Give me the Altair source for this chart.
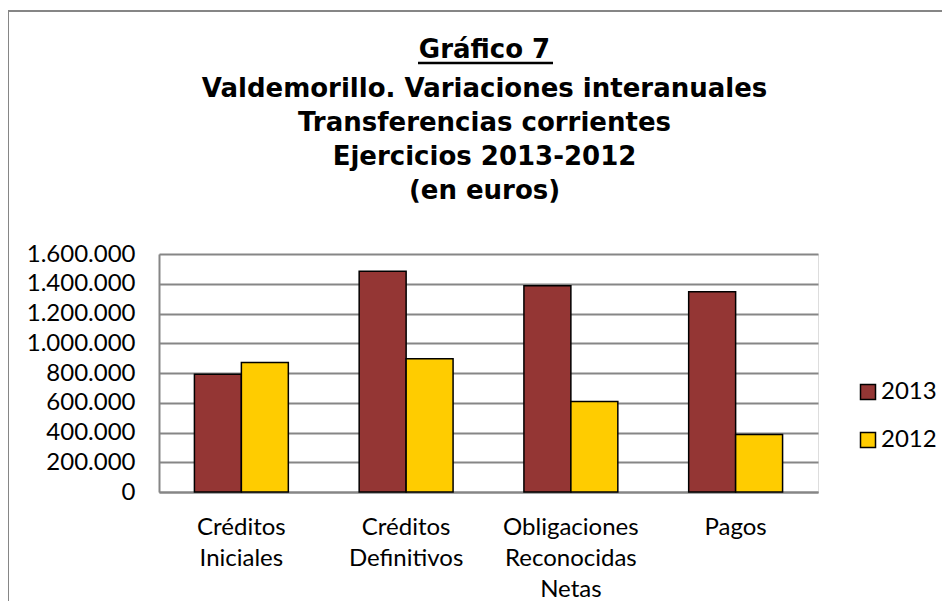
import altair as alt
import pandas as pd

categories = ["Créditos Iniciales", "Créditos Definitivos", "Obligaciones Reconocidas Netas", "Pagos"]
series = ["2013", "2012"]
values_2013 = [792000, 1484000, 1387000, 1347000]
values_2012 = [870000, 895000, 608000, 387000]
y_ticks = [0, 200000, 400000, 600000, 800000, 1000000, 1200000, 1400000, 1600000]
colors = ["#943634", "#FFCC00"]
title_main = "Gráfico 7"
title_lines = [
    "Valdemorillo. Variaciones interanuales",
    "Transferencias corrientes",
    "Ejercicios 2013-2012",
    "(en euros)",
]

rows = []
for c, v in zip(categories, values_2013):
    rows.append({"categoria": c, "ejercicio": "2013", "valor": v})
for c, v in zip(categories, values_2012):
    rows.append({"categoria": c, "ejercicio": "2012", "valor": v})
df = pd.DataFrame(rows)

W, H = 659, 238
LABEL_FONT = "Lato"
TITLE_FONT = "DejaVu Sans"

bars = alt.Chart(df).mark_bar(stroke="black", strokeWidth=1.5).encode(
    x=alt.X(
        "categoria:N",
        sort=categories,
        scale=alt.Scale(paddingInner=0.43, paddingOuter=0.215),
        axis=alt.Axis(
            title=None,
            labelAngle=0,
            labelExpr="split(datum.label, ' ')",
            labelFont=LABEL_FONT,
            labelFontSize=24,
            labelColor="black",
            labelLineHeight=31,
            labelPadding=23,
            ticks=False,
            domainColor="#868686",
            domainWidth=2,
            grid=False,
        ),
    ),
    xOffset=alt.XOffset("ejercicio:N", sort=series, scale=alt.Scale(paddingInner=0, paddingOuter=0)),
    y=alt.Y(
        "valor:Q",
        scale=alt.Scale(domain=[0, 1600000], nice=False),
        axis=alt.Axis(
            title=None,
            values=y_ticks,
            labelExpr="replace(format(datum.value, ','), regexp(',', 'g'), '.')",
            labelFont=LABEL_FONT,
            labelFontSize=24,
            labelColor="black",
            labelPadding=24,
            ticks=False,
            domainColor="#868686",
            domainWidth=2,
            gridColor="#868686",
            gridWidth=2,
        ),
    ),
    color=alt.Color(
        "ejercicio:N",
        sort=series,
        scale=alt.Scale(domain=series, range=colors),
        legend=alt.Legend(
            title=None,
            orient="none",
            legendX=697,
            legendY=126,
            symbolType="square",
            symbolSize=225,
            symbolStrokeColor="black",
            symbolStrokeWidth=1.5,
            symbolOpacity=1,
            labelFont=LABEL_FONT,
            labelFontSize=24,
            labelColor="black",
            labelOffset=1,
            rowPadding=24,
        ),
    ),
)

underline = alt.Chart(pd.DataFrame({"t": [title_main]})).mark_rule(
    color="black", strokeWidth=2.5
).encode(x=alt.value(259), x2=alt.value(394), y=alt.value(-191))

frame = alt.Chart(pd.DataFrame({"t": ["frame"]})).mark_rect(
    fill=None, stroke="#868686", strokeWidth=2
).encode(x=alt.value(-151), x2=alt.value(1200), y=alt.value(-243), y2=alt.value(1200))

chart = alt.layer(frame, bars, underline).properties(
    width=W,
    height=H,
    padding={"left": 151, "top": 246, "right": 124, "bottom": 109},
    autosize=alt.AutoSizeParams(type="none"),
    title=alt.TitleParams(
        text=title_main,
        subtitle=title_lines,
        font=TITLE_FONT,
        fontWeight="bold",
        fontSize=26,
        color="black",
        subtitleFont=TITLE_FONT,
        subtitleFontWeight="bold",
        subtitleFontSize=26,
        subtitleColor="black",
        subtitleLineHeight=34,
        subtitlePadding=13,
        anchor="middle",
        frame="group",
        offset=0,
        dy=194,
        dx=-4,
    ),
).configure_view(stroke=None).configure(background="white")

chart.save("out.html", embed_options={"renderer": "svg", "actions": False})
